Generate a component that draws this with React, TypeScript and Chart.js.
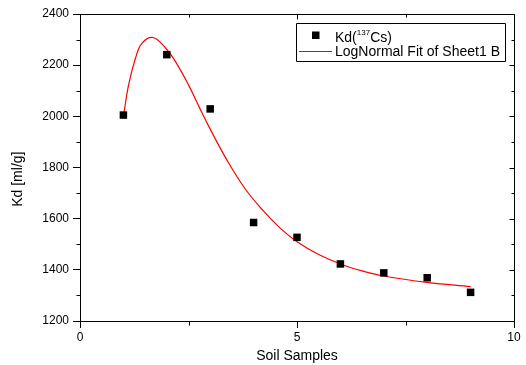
import React, { useEffect, useRef } from 'react';
import { Chart, registerables } from 'chart.js';

Chart.register(...registerables);

// ---- data ----
const sampleX = [1, 2, 3, 4, 5, 6, 7, 8, 9];
const kdValues = [2005, 2241, 2029, 1585, 1527, 1423, 1388, 1369, 1312];
const fitX = [1, 1.12, 1.28, 1.43, 1.68, 1.97, 2.2, 2.5, 2.75, 3.0, 3.4, 3.8, 4.2, 4.6, 5.0, 5.5, 6.0, 6.5, 7.0, 8.0, 9.0];
const fitY = [2000, 2123, 2228, 2286, 2308, 2267, 2214, 2123, 2035, 1950, 1825, 1718, 1635, 1565, 1510, 1460, 1423, 1396, 1376, 1351, 1334];
const xMajorTicks = [0, 5, 10];
const xMinorTicks = [2.5, 7.5];
const yMajorTicks = [1200, 1400, 1600, 1800, 2000, 2200, 2400];
const yMinorTicks = [1300, 1500, 1700, 1900, 2100, 2300];
const seriesLabels = ['Kd(', '137', 'Cs)'];
const fitLabel = 'LogNormal Fit of Sheet1 B';
const xTitle = 'Soil Samples';
const yTitle = 'Kd [ml/g]';

const FONT = '"Liberation Sans", Arial, sans-serif';

const framePlugin = {
  id: 'frameAndLegend',
  afterDraw(chart: any) {
    const { ctx, chartArea, scales } = chart;
    const { left, right, top, bottom } = chartArea;
    const xs = scales.x;
    const ys = scales.y;
    const r = (v: number) => Math.round(v) + 0.5;
    ctx.save();
    ctx.strokeStyle = '#000';
    ctx.lineWidth = 1;
    ctx.beginPath();
    ctx.moveTo(r(left), r(top));
    ctx.lineTo(r(right), r(top));
    ctx.lineTo(r(right), r(bottom));
    yMinorTicks.forEach((v) => {
      const py = r(ys.getPixelForValue(v));
      ctx.moveTo(r(left) - 4, py);
      ctx.lineTo(r(left), py);
      ctx.moveTo(r(right), py);
      ctx.lineTo(r(right) - 3, py);
    });
    yMajorTicks.forEach((v) => {
      const py = r(ys.getPixelForValue(v));
      ctx.moveTo(r(right), py);
      ctx.lineTo(r(right) - 5, py);
    });
    xMinorTicks.forEach((v) => {
      const px = r(xs.getPixelForValue(v));
      ctx.moveTo(px, r(bottom));
      ctx.lineTo(px, r(bottom) + 4);
      ctx.moveTo(px, r(top));
      ctx.lineTo(px, r(top) + 3);
    });
    xMajorTicks.forEach((v) => {
      const px = r(xs.getPixelForValue(v));
      ctx.moveTo(px, r(top));
      ctx.lineTo(px, r(top) + 5);
    });
    ctx.stroke();

    // legend box
    const bx = 296.5, by = 23.5, bw = 209, bh = 38;
    ctx.beginPath();
    ctx.rect(bx, by, bw, bh);
    ctx.stroke();

    const ds0 = chart.data.datasets[0];
    const ds1 = chart.data.datasets[1];
    ctx.fillStyle = ds0.backgroundColor;
    ctx.fillRect(312, 31.5, 7.5, 7.5);
    ctx.strokeStyle = ds1.borderColor;
    ctx.beginPath();
    ctx.moveTo(299, 51.5);
    ctx.lineTo(332, 51.5);
    ctx.stroke();

    ctx.fillStyle = '#000';
    ctx.textBaseline = 'middle';
    ctx.textAlign = 'left';
    let tx = 335;
    ctx.font = `14px ${FONT}`;
    ctx.fillText(seriesLabels[0], tx, 38);
    tx += ctx.measureText(seriesLabels[0]).width;
    ctx.font = `8px ${FONT}`;
    ctx.fillText(seriesLabels[1], tx, 33);
    tx += ctx.measureText(seriesLabels[1]).width;
    ctx.font = `14px ${FONT}`;
    ctx.fillText(seriesLabels[2], tx, 38);
    ctx.fillText(fitLabel, 335, 52.5);
    ctx.restore();
  },
};

export default function App() {
  const ref = useRef<HTMLCanvasElement>(null);
  useEffect(() => {
    document.body.style.margin = '0';
    const canvas = ref.current!;
    const chart = new Chart(canvas, {
      type: 'scatter',
      data: {
        datasets: [
          {
            label: 'Kd(137Cs)',
            data: sampleX.map((x, i) => ({ x, y: kdValues[i] })),
            backgroundColor: '#000',
            borderColor: '#000',
            borderWidth: 0,
            pointStyle: 'rect',
            pointRadius: 5.3,
            order: 0,
          },
          {
            label: fitLabel,
            type: 'line',
            data: fitX.map((x, i) => ({ x, y: fitY[i] })),
            borderColor: '#ff0000',
            borderWidth: 1.2,
            pointRadius: 0,
            fill: false,
            tension: 0.4,
            cubicInterpolationMode: 'default',
            order: 1,
          } as any,
        ],
      },
      options: {
        responsive: false,
        maintainAspectRatio: false,
        animation: false,
        devicePixelRatio: 1,
        layout: { padding: { left: 0, top: 14, right: 12, bottom: 0 } },
        plugins: {
          legend: { display: false },
          tooltip: { enabled: false },
        },
        scales: {
          x: {
            type: 'linear',
            min: 0,
            max: 10,
            afterBuildTicks: (s: any) => {
              s.ticks = xMajorTicks.map((v) => ({ value: v }));
            },
            ticks: {
              color: '#000',
              font: { family: FONT, size: 12 },
              padding: 2,
              maxRotation: 0,
              callback: (v: any) => String(v),
            },
            grid: { drawOnChartArea: false, drawTicks: true, tickLength: 7, color: '#000' },
            border: { display: true, color: '#000', width: 1 },
            title: {
              display: true,
              text: xTitle,
              color: '#000',
              font: { family: FONT, size: 14 },
              padding: { top: 0, bottom: 0 },
            },
            afterFit: (s: any) => {
              s.height = 44;
            },
          },
          y: {
            type: 'linear',
            min: 1200,
            max: 2400,
            afterBuildTicks: (s: any) => {
              s.ticks = yMajorTicks.map((v) => ({ value: v }));
            },
            ticks: {
              color: '#000',
              font: { family: FONT, size: 12 },
              padding: 4,
              callback: (v: any) => String(v),
            },
            grid: { drawOnChartArea: false, drawTicks: true, tickLength: 7, color: '#000' },
            border: { display: true, color: '#000', width: 1 },
            title: {
              display: true,
              text: yTitle + '      ',
              color: '#000',
              font: { family: FONT, size: 14 },
              padding: { top: 10, bottom: 0 },
            },
            afterFit: (s: any) => {
              s.width = 80;
            },
          },
        },
      },
      plugins: [framePlugin],
    });
    return () => chart.destroy();
  }, []);
  return (
    <div style={{ position: 'fixed', left: 0, top: 0, width: 526, height: 365, background: '#fff' }}>
      <canvas ref={ref} width={526} height={365} />
    </div>
  );
}
